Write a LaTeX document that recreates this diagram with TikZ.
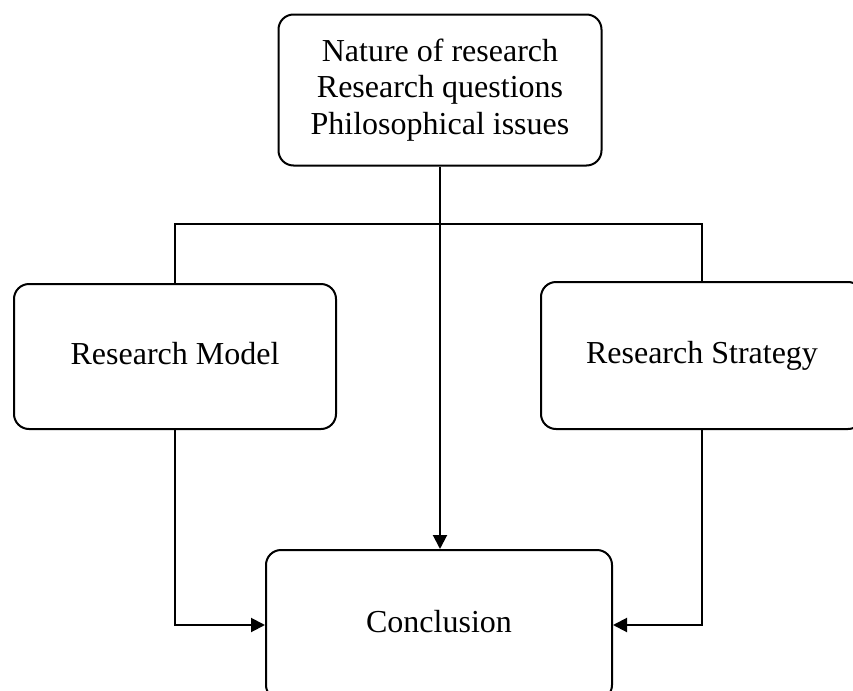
\documentclass[tikz,border=0pt]{standalone}
\usepackage{fontspec}
\setmainfont{Liberation Serif}
\usetikzlibrary{arrows.meta}

\begin{document}
\begin{tikzpicture}[x=0.5pt, y=-0.5pt, line width=1pt,
    >={Triangle[length=7pt, width=7pt]},
    box/.style={draw, rounded corners=7.5pt, align=center,
        font=\fontsize{16}{18.3}\selectfont},
    onebox/.style={box, text height=11pt, text depth=3.5pt}]

        % ==========================================
        % 1. Area del disegno
        % ==========================================
        \useasboundingbox (0, 0) rectangle (853, 691);

        % ==========================================
        % 2. Riquadri
        % ==========================================
        \node[box, minimum width=161.5pt, minimum height=75.5pt] (issues) at (440, 90)
            {Nature of research\\Research questions\\Philosophical issues};
        \node[onebox, minimum width=161pt, minimum height=72.5pt] (model) at (175, 356.5)
            {Research Model};
        \node[onebox, minimum width=161pt, minimum height=73.5pt] (strategy) at (702, 355.5)
            {Research Strategy};
        \node[onebox, minimum width=173pt, minimum height=75pt] (concl) at (439, 625)
            {Conclusion};

        % punto di diramazione sulla linea orizzontale
        \coordinate (split) at (440, 224);

        % ==========================================
        % 3. Collegamenti
        % ==========================================
        \draw[->] (issues.south) -- (issues.south |- concl.north);
        \draw (model.north) |- (split) -| (strategy.north);
        \draw[->] (model.south) |- (concl.west);
        \draw[->] (strategy.south) |- (concl.east);

    \end{tikzpicture}
\end{document}
